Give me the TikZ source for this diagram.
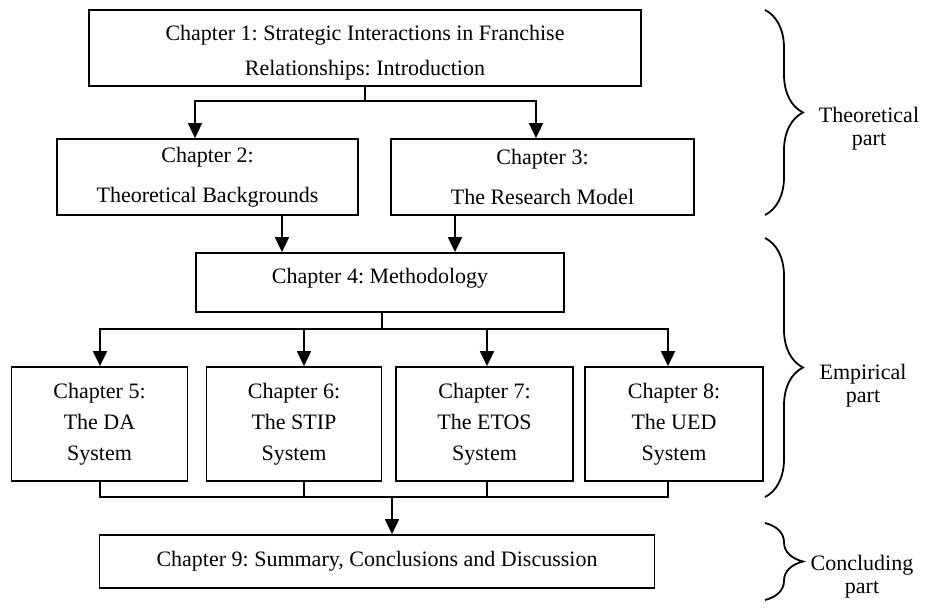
\documentclass[tikz,border=0pt]{standalone}
\usepackage{fontspec}
\setmainfont{Liberation Serif}
\frenchspacing
\usetikzlibrary{arrows.meta,decorations.pathreplacing,calc}
\begin{document}
\begin{tikzpicture}[x=1pt,y=-1pt,
  chap/.style={draw,line width=1.8pt,inner sep=0pt,align=center,font=\fontsize{22}{31}\selectfont},
  conn/.style={line width=1.8pt},
  arr/.style={line width=1.8pt,-{Triangle[width=14pt,length=15pt]}},
  brc/.style={decorate,decoration={brace,amplitude=38pt},line width=1.8pt},
  lbl/.style={align=center,inner sep=0pt,anchor=north,font=\fontsize{22}{23}\selectfont}]
\useasboundingbox (0,0) rectangle (929,609);
\node[chap,minimum width=552pt,minimum height=76pt,font=\fontsize{22}{35}\selectfont] (c1) at (365,48) {\rule{0pt}{25pt}Chapter 1: Strategic Interactions in Franchise\\Relationships: Introduction};
\node[chap,minimum width=301pt,minimum height=76pt,font=\fontsize{22}{40}\selectfont] (c2) at (207.5,177) {Chapter 2:\\Theoretical Backgrounds};
\node[chap,minimum width=303pt,minimum height=76pt,font=\fontsize{22}{40}\selectfont] (c3) at (542.5,177) {Chapter 3:\\The Research Model};
\node[chap,minimum width=368pt,minimum height=59pt] (c4) at (380,282.5) {Chapter 4: Methodology\rule[-13pt]{0pt}{13pt}};
\node[chap,minimum width=176pt,minimum height=114pt] (c5) at (99.5,424) {Chapter 5:\\The DA\\System};
\node[chap,minimum width=175pt,minimum height=114pt] (c6) at (294,424) {Chapter 6:\\The STIP\\System};
\node[chap,minimum width=177pt,minimum height=114pt] (c7) at (484.5,424) {Chapter 7:\\The ETOS\\System};
\node[chap,minimum width=178pt,minimum height=114pt] (c8) at (674,424) {Chapter 8:\\The UED\\System};
\node[chap,minimum width=555pt,minimum height=53pt] (c9) at (377,561.5) {Chapter 9: Summary, Conclusions and Discussion};
% connectors
\coordinate (j1) at (365,101);
\draw[conn] (c1.south) -- (j1);
\draw[arr] (j1) -| ([xshift=-12.5pt]c2.north);
\draw[arr] (j1) -| ([xshift=-6.5pt]c3.north);
\draw[arr] ([xshift=74.5pt]c2.south) -- ([xshift=74.5pt]c2.south |- c4.north);
\draw[arr] ([xshift=-87.5pt]c3.south) -- ([xshift=-87.5pt]c3.south |- c4.north);
\coordinate (j2) at (382,329);
\draw[conn] ([xshift=2pt]c4.south) -- (j2);
\coordinate (p5) at ([xshift=0.5pt]c5.south);
\coordinate (p6) at ([xshift=10pt]c6.south);
\coordinate (p7) at ([xshift=2.5pt]c7.south);
\coordinate (p8) at ([xshift=-6pt]c8.south);
\draw[arr] (j2) -| (p5 |- c5.north);
\draw[arr] (j2) -| (p6 |- c6.north);
\draw[arr] (j2) -| (p7 |- c7.north);
\draw[arr] (j2) -| (p8 |- c8.north);
\coordinate (j3) at (392,497);
\draw[conn] (p5) |- (j3) -| (p8);
\draw[conn] (p6) -- (p6 |- j3);
\draw[conn] (p7) -- (p7 |- j3);
\draw[arr] (j3) -- (j3 |- c9.north);
% braces
\draw[brc] (765,10) -- (765,215);
\draw[brc] (765,238) -- (765,497);
\draw[brc] (765,523) -- (765,600);
\node[lbl] (t1) at (869,107) {Theoretical\\part};
\node[lbl] (t2) at (863,364) {Empirical\\part};
\node[lbl] (t3) at (862,555) {Concluding\\part};
\end{tikzpicture}
\end{document}
